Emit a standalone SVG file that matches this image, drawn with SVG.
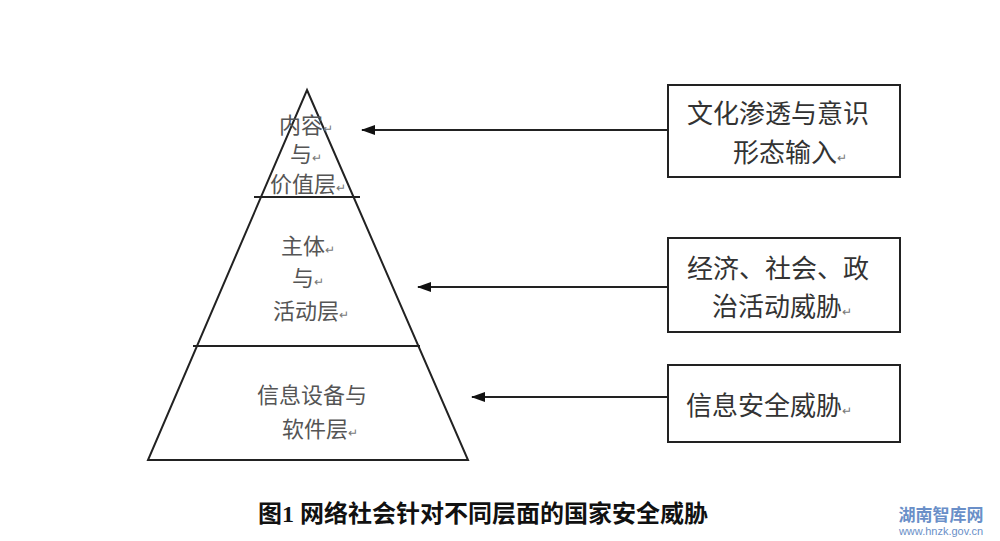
<svg xmlns="http://www.w3.org/2000/svg" width="1000" height="541" viewBox="0 0 1000 541">
<defs>
<style>
.ln{stroke:#222;stroke-width:2;fill:none}
.t{font-family:"Noto Sans CJK SC",sans-serif;font-size:22px;fill:#555}
.b{font-family:"Noto Sans CJK SC",sans-serif;font-size:26px;fill:#333}
.r{font-size:12px;fill:#777}
</style>
<marker id="ah" markerWidth="14" markerHeight="10" refX="13" refY="5" orient="auto" markerUnits="userSpaceOnUse"><path d="M0,0 L14,5 L0,10 Z" fill="#111"/></marker>
</defs>
<rect width="1000" height="541" fill="#fff"/>
<g id="pyramid">
<path class="ln" d="M307,90 L468,460 L148,460 Z"/>
<line class="ln" x1="254" y1="197" x2="360" y2="197"/>
<line class="ln" x1="193" y1="346" x2="420" y2="346"/>
<text class="t" x="306" y="133" text-anchor="middle">内容<tspan class="r">↵</tspan></text>
<text class="t" x="306" y="162" text-anchor="middle">与<tspan class="r">↵</tspan></text>
<text class="t" x="308" y="192" text-anchor="middle">价值层<tspan class="r">↵</tspan></text>
<text class="t" x="308" y="254" text-anchor="middle">主体<tspan class="r">↵</tspan></text>
<text class="t" x="308" y="286" text-anchor="middle">与<tspan class="r">↵</tspan></text>
<text class="t" x="311" y="319" text-anchor="middle">活动层<tspan class="r">↵</tspan></text>
<text class="t" x="312" y="403" text-anchor="middle">信息设备与</text>
<text class="t" x="320" y="437" text-anchor="middle">软件层<tspan class="r">↵</tspan></text>
</g>
<g id="box1"><rect class="ln" x="668" y="85" width="232" height="92"/>
<text class="b" x="687" y="123">文化渗透与意识</text>
<text class="b" x="733" y="162">形态输入<tspan class="r">↵</tspan></text></g>
<g id="box2"><rect class="ln" x="668" y="238" width="232" height="94"/>
<text class="b" x="687" y="278">经济、社会、政</text>
<text class="b" x="712" y="316">治活动威胁<tspan class="r">↵</tspan></text></g>
<g id="box3"><rect class="ln" x="668" y="365" width="232" height="77"/>
<text class="b" x="686" y="415">信息安全威胁<tspan class="r">↵</tspan></text></g>
<g id="connectors">
<line class="ln" x1="668" y1="130" x2="362" y2="130" marker-end="url(#ah)"/>
<line class="ln" x1="668" y1="287" x2="418" y2="287" marker-end="url(#ah)"/>
<line class="ln" x1="668" y1="397" x2="472" y2="397" marker-end="url(#ah)"/>
</g>
<text x="258" y="522" font-family="Liberation Serif,'Noto Sans CJK SC',serif" font-size="24" font-weight="bold" fill="#111">图1  网络社会针对不同层面的国家安全威胁</text>
<text x="941" y="521" text-anchor="middle" font-family="'Noto Sans CJK SC',sans-serif" font-size="17" font-weight="bold" fill="#6a8fc8">湖南智库网</text>
<text x="941" y="535" text-anchor="middle" font-family="'Liberation Sans',sans-serif" font-size="11" fill="#6a8fc8">www.hnzk.gov.cn</text>
</svg>
